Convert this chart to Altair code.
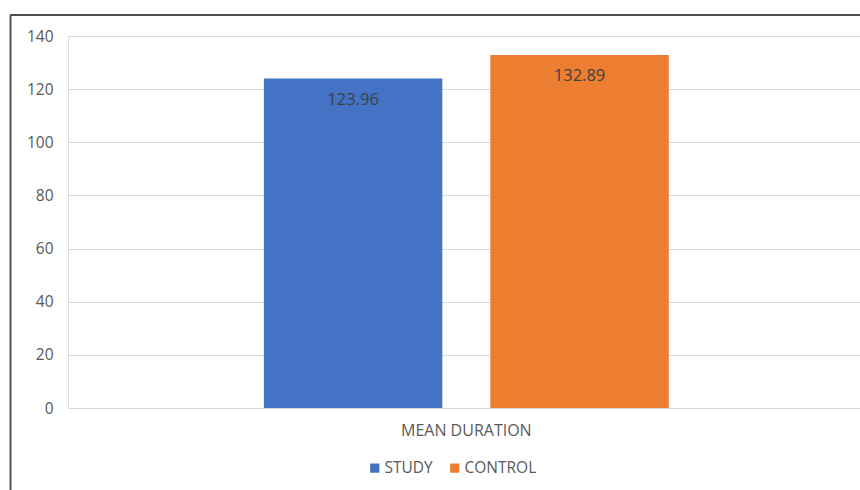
import altair as alt
import pandas as pd

# Mean duration by group
groups = ["STUDY", "CONTROL"]
means = [123.96, 132.89]
category = ["MEAN DURATION", "MEAN DURATION"]
colors = ["#4472C4", "#ED7D31"]

df = pd.DataFrame({"category": category, "group": groups, "mean": means})

FONT = "Open Sans"
GREY = "#595959"

x_enc = alt.X(
    "category:N",
    title=None,
    scale=alt.Scale(paddingInner=0, paddingOuter=0.478, align=0.506),
    axis=alt.Axis(
        labelAngle=0, labelFontSize=16, labelColor=GREY, labelFont=FONT,
        labelPadding=14, ticks=False, domainColor="#d9d9d9", grid=False,
    ),
)
xoff_enc = alt.XOffset(
    "group:N", sort=groups, scale=alt.Scale(paddingInner=0.212, paddingOuter=0)
)
y_enc = alt.Y(
    "mean:Q",
    title=None,
    scale=alt.Scale(domain=[0, 140], nice=False),
    axis=alt.Axis(
        values=[0, 20, 40, 60, 80, 100, 120, 140], labelFontSize=15.5,
        labelColor=GREY, labelFont=FONT, labelPadding=15, ticks=False,
        domain=False, gridColor="#d9d9d9", gridWidth=1,
    ),
)

bars = alt.Chart(df).mark_bar().encode(
    x=x_enc,
    xOffset=xoff_enc,
    y=y_enc,
    color=alt.Color(
        "group:N",
        sort=groups,
        scale=alt.Scale(domain=groups, range=colors),
        legend=alt.Legend(
            title=None, orient="none", direction="horizontal",
            legendX=299, legendY=424, symbolType="square", symbolSize=85,
            symbolStrokeWidth=0, labelFontSize=15.5, labelFont=FONT,
            labelColor=GREY, columnPadding=14, labelOffset=2,
        ),
    ),
)

labels = alt.Chart(df).mark_text(
    baseline="middle", dy=21, fontSize=16.5, font=FONT, color="#404040"
).encode(
    x=alt.X("category:N"),
    xOffset=alt.XOffset("group:N", sort=groups),
    y=alt.Y("mean:Q"),
    text=alt.Text("mean:Q", format=".2f"),
)

# outer chart frame (left and top edges)
frame_left = alt.Chart(df).mark_rule(color="#4d4d4d", strokeWidth=1.5).encode(
    x=alt.value(-57.5), y=alt.value(-21), y2=alt.value(460)
)
frame_top = alt.Chart(df).mark_rule(color="#4d4d4d", strokeWidth=2).encode(
    x=alt.value(-58), x2=alt.value(800), y=alt.value(-21)
)

chart = (
    alt.layer(bars, labels, frame_left, frame_top)
    .properties(
        width=792,
        height=372,
        autosize=alt.AutoSizeParams(type="none"),
        padding={"left": 68, "top": 36, "right": 0, "bottom": 82},
    )
    .configure_view(stroke="transparent", strokeWidth=0)
    .configure(background="white")
)

chart.save("out.html", embed_options={"renderer": "svg", "actions": False})
